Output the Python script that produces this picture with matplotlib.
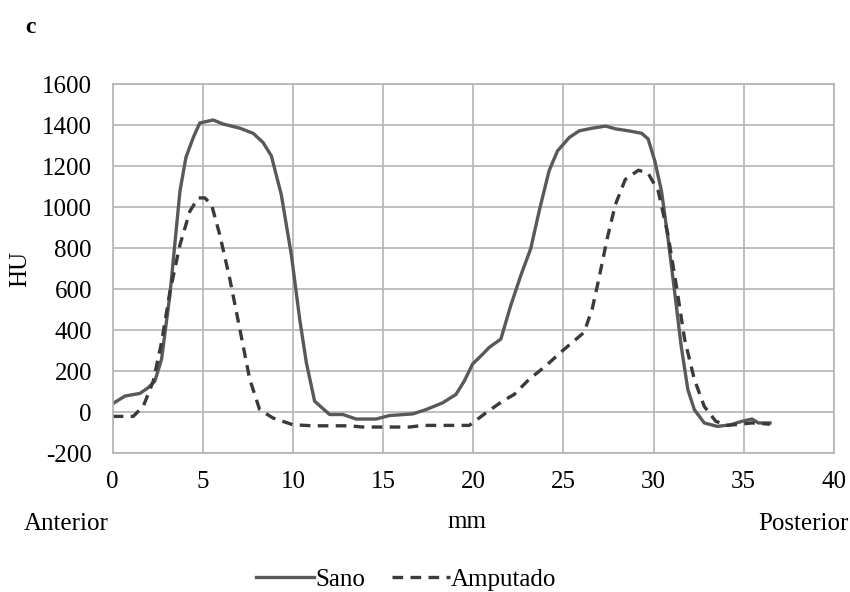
import numpy as np
import matplotlib.pyplot as plt

plt.rcParams['font.family'] = ['Liberation Serif', 'DejaVu Serif']
plt.rcParams['axes.unicode_minus'] = False

# perfil de densidad (HU) a lo largo del corte, en mm
sano_x = [0, 0.68, 1.51, 1.97, 2.34, 2.71, 3.17, 3.73, 4.06, 4.47, 4.83, 5.57, 6.13,
          7.05, 7.79, 8.34, 8.8, 9.35, 9.91, 10.37, 10.74, 11.2, 12.03, 12.77, 13.5,
          14.61, 15.35, 16.64, 17.38, 18.3, 19.04, 19.5, 19.96, 20.52, 20.88, 21.53,
          22.08, 22.64, 23.19, 23.65, 24.2, 24.67, 25.33, 25.88, 26.6, 27.34, 27.88,
          28.61, 29.34, 29.7, 30.07, 30.44, 30.8, 31.17, 31.53, 31.9, 32.26, 32.81,
          33.54, 34.27, 34.91, 35.46, 35.82, 36.46]
sano_y = [42, 79, 92, 120, 152, 259, 570, 1078, 1242, 1340, 1410, 1425, 1405,
          1385, 1360, 1315, 1250, 1061, 767, 455, 242, 54, -11, -11, -33,
          -33, -16, -8, 13, 46, 87, 152, 235, 283, 316, 357,
          521, 668, 799, 979, 1176, 1274, 1340, 1372, 1385, 1395, 1382,
          1372, 1360, 1332, 1225, 1078, 848, 586, 324, 111, 13, -52,
          -69, -61, -44, -33, -52, -52]

amp_x = [0, 1.14, 1.7, 2.25, 2.71, 3.17, 3.73, 4.28, 4.74, 5.11, 5.48, 5.94, 6.49,
         7.05, 7.6, 8.15, 8.89, 10.0, 11.1, 13.1, 13.87, 16.46, 17.2, 19.78, 20.7,
         21.62, 22.27, 23.1, 24.02, 24.95, 25.5, 26.15, 26.6, 26.97, 27.43, 27.88,
         28.43, 29.16, 29.7, 30.26, 30.8, 31.26, 31.72, 32.26, 32.81, 33.45, 34.09,
         34.82, 35.46, 36.46]
amp_y = [-20, -20, 30, 152, 341, 586, 816, 980, 1045, 1045, 1012, 865, 652,
         406, 161, 13, -28, -61, -66, -66, -72, -72, -64, -64, -3,
         54, 87, 161, 226, 300, 341, 390, 505, 652, 848, 1012,
         1135, 1180, 1165, 1078, 865, 619, 357, 161, 29, -44, -64,
         -58, -52, -58]

fig = plt.figure(figsize=(8.5, 5.92), dpi=100)
ax = fig.add_axes([0.1326, 0.2343, 0.8484, 0.6237])

ax.plot(sano_x, sano_y, color='#595959', lw=2.4, label='Sano')
ax.plot(amp_x, amp_y, color='#3a3a3a', lw=2.4, ls=(0, (3.2, 2.2)), label='Amputado')

ax.set_xlim(0, 40)
ax.set_ylim(-200, 1600)
ax.set_xticks(np.arange(0, 41, 5))
ax.set_yticks(np.arange(-200, 1601, 200))
ax.grid(True, color='#b4b4b4', lw=1.2)
ax.set_axisbelow(True)
for s in ax.spines.values():
    s.set_color('#b4b4b4')
    s.set_linewidth(1.2)
ax.tick_params(length=0, labelsize=18)
ax.tick_params(axis='x', pad=13)
ax.tick_params(axis='y', pad=15)

ax.set_ylabel('HU', fontsize=18, labelpad=8)
fig.text(0.549, 0.108, 'mm', ha='center', fontsize=18)
fig.text(0.028, 0.105, 'Anterior', ha='left', fontsize=18)
fig.text(0.998, 0.105, 'Posterior', ha='right', fontsize=18)
fig.text(0.03, 0.945, 'c', fontsize=17, fontweight='bold')

fig.legend(loc='lower center', bbox_to_anchor=(0.478, -0.036), ncol=2, frameon=False,
           fontsize=18, handlelength=2.3, handletextpad=0.05, columnspacing=1.1)

fig.savefig('out.png', dpi=100)
